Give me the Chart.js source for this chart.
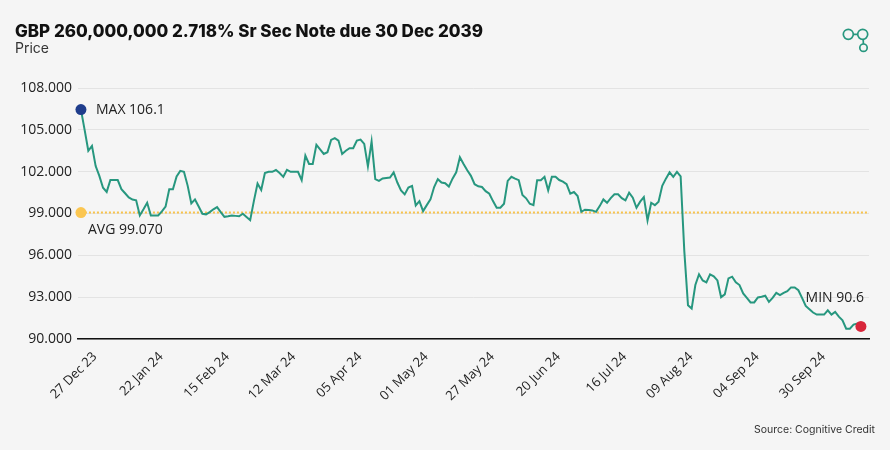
<!DOCTYPE html>
<html>
<head>
<meta charset="utf-8">
<script src="https://cdn.jsdelivr.net/npm/chart.js@4.4.1/dist/chart.umd.min.js"></script>
<style>
  html, body { margin: 0; padding: 0; background: #f5f5f5; }
  #wrap { width: 890px; height: 450px; position: relative; }
</style>
</head>
<body>
<div id="wrap"><canvas id="priceChart"></canvas></div>
<script>
// tick labels, one every 18 business days starting 27 Dec 23
const tickLabels = ["27 Dec 23", "22 Jan 24", "15 Feb 24", "12 Mar 24", "05 Apr 24", "01 May 24",
  "27 May 24", "20 Jun 24", "16 Jul 24", "09 Aug 24", "04 Sep 24", "30 Sep 24"];
const tickEvery = 18;

// daily price, business days 27 Dec 23 .. 18 Oct 24
const prices = [
  106.45, 105.0, 103.5, 103.85, 102.4, 101.7, 100.85, 100.55, 101.4, 101.4,
  101.4, 100.75, 100.45, 100.15, 100.0, 99.95, 98.86, 99.3, 99.77, 98.86,
  98.86, 98.86, 99.15, 99.49, 100.74, 100.74, 101.66, 102.06, 101.99, 101.0,
  99.72, 100.01, 99.5, 98.98, 98.94, 99.1, 99.3, 99.46, 99.1, 98.76,
  98.8, 98.86, 98.83, 98.8, 98.98, 98.75, 98.52, 99.89, 101.15, 100.69,
  101.9, 101.99, 101.99, 102.12, 101.9, 101.63, 102.13, 101.99, 101.99, 101.99,
  101.39, 103.15, 102.55, 102.55, 103.92, 103.6, 103.27, 103.39, 104.28, 104.4,
  104.23, 103.27, 103.5, 103.68, 103.68, 104.23, 104.3, 103.99, 102.38, 104.16,
  101.46, 101.34, 101.51, 101.55, 101.58, 101.95, 101.22, 100.66, 100.37, 100.86,
  100.98, 99.58, 99.89, 99.17, 99.6, 100.01, 100.9, 101.46, 101.22, 101.17,
  100.93, 101.5, 101.95, 103.03, 102.55, 102.1, 101.7, 101.1, 100.95, 100.9,
  100.6, 100.42, 99.89, 99.41, 99.41, 99.7, 101.34, 101.63, 101.5, 101.39,
  100.33, 100.09, 99.7, 99.6, 101.39, 101.39, 101.63, 100.66, 101.63, 101.63,
  101.4, 101.29, 101.1, 100.42, 100.54, 100.25, 99.12, 99.27, 99.25, 99.22,
  99.12, 99.53, 100.01, 99.77, 100.1, 100.38, 100.38, 100.1, 99.94, 100.5,
  100.14, 99.41, 99.85, 100.18, 98.5, 99.77, 99.6, 99.85, 100.98, 101.5,
  101.95, 101.63, 101.99, 101.66, 96.3, 92.42, 92.18, 93.87, 94.64, 94.2,
  94.06, 94.64, 94.5, 94.2, 93.0, 93.2, 94.35, 94.47, 94.06, 93.87,
  93.27, 92.95, 92.62, 92.62, 92.98, 93.03, 93.1, 92.66, 92.95, 93.31,
  93.15, 93.31, 93.43, 93.7, 93.7, 93.5, 92.95, 92.37, 92.13, 91.9,
  91.75, 91.75, 91.75, 92.06, 91.75, 91.94, 91.6, 91.34, 90.74, 90.74,
  91.03, 91.1, 90.9
];
const avgPrice = 99.07;
const maxText = "MAX 106.1";
const minText = "MIN 90.6";
const avgText = "AVG 99.070";
const yTicks = [90, 93, 96, 99, 102, 105, 108];

const teal = "#27977f";
const last = prices.length - 1;

const overlay = {
  id: 'overlay',
  beforeDraw(chart) {
    const c = chart.ctx;
    c.save();
    c.fillStyle = '#f5f5f5';
    c.fillRect(0, 0, chart.width, chart.height);
    c.restore();
  },
  afterDraw(chart) {
    const c = chart.ctx;
    const x = chart.scales.x, y = chart.scales.y;
    c.save();
    // header
    c.fillStyle = '#111';
    c.font = '800 17px Inter';
    c.textBaseline = 'alphabetic';
    c.fillText('GBP 260,000,000 2.718% Sr Sec Note due 30 Dec 2039', 15, 37);
    c.fillStyle = '#333';
    c.font = '400 14px Inter';
    c.fillText('Price', 15, 53);
    // source
    c.font = '400 10.5px Inter';
    c.textAlign = 'right';
    c.fillText('Source: Cognitive Credit', 875, 433);
    // logo
    c.strokeStyle = teal;
    c.lineWidth = 1.7;
    c.beginPath(); c.arc(848.3, 34.3, 5, 0, Math.PI * 2); c.stroke();
    c.beginPath(); c.arc(862.7, 34.3, 5, 0, Math.PI * 2); c.stroke();
    c.beginPath(); c.arc(863.5, 47.7, 3.7, 0, Math.PI * 2); c.stroke();
    c.beginPath();
    c.moveTo(853.3, 34.3); c.lineTo(857.7, 34.3);
    c.moveTo(863.2, 39.3); c.lineTo(863.4, 44);
    c.stroke();
    // annotations
    c.fillStyle = '#222';
    c.font = '400 14px "Open Sans"';
    c.textBaseline = 'middle';
    c.textAlign = 'left';
    const x0 = x.getPixelForValue(0);
    c.fillText(maxText, x0 + 15, y.getPixelForValue(prices[0]));
    c.fillText(avgText, x0 + 7, y.getPixelForValue(avgPrice) + 17);
    c.textAlign = 'right';
    c.fillText(minText, x.getPixelForValue(last) + 3, y.getPixelForValue(prices[last]) - 28);
    c.restore();
  }
};

new Chart(document.getElementById('priceChart'), {
  type: 'line',
  data: {
    datasets: [{
      data: prices.map((v, i) => ({ x: i, y: v })),
      borderColor: teal,
      borderWidth: 2,
      tension: 0,
      clip: false,
      pointRadius: ctx => (ctx.dataIndex === 0 || ctx.dataIndex === last) ? 5.5 : 0,
      pointBackgroundColor: ctx => ctx.dataIndex === 0 ? '#1f3d8c' : '#d8263a',
      pointBorderWidth: 0
    }, {
      data: [{ x: 0, y: avgPrice }, { x: 214.2, y: avgPrice }],
      borderColor: '#f8c24a',
      borderWidth: 2,
      borderDash: [2, 2],
      clip: false,
      pointRadius: ctx => ctx.dataIndex === 0 ? 5.5 : 0,
      pointBackgroundColor: '#fbc651',
      pointBorderWidth: 0
    }]
  },
  options: {
    responsive: true,
    maintainAspectRatio: false,
    animation: false,
    layout: { padding: { top: 88, right: 21, bottom: 0, left: 0 } },
    plugins: { legend: { display: false }, tooltip: { enabled: false } },
    scales: {
      x: {
        type: 'linear',
        min: -0.8,
        max: 214.2,
        afterFit: s => { s.height = 111; },
        afterBuildTicks: s => { s.ticks = tickLabels.map((t, k) => ({ value: k * tickEvery })); },
        grid: { display: false },
        border: { display: true, color: '#111', width: 1.5 },
        ticks: {
          autoSkip: false,
          minRotation: 45,
          maxRotation: 45,
          padding: 2,
          labelOffset: 14,
          color: '#222',
          font: { family: 'Open Sans', size: 13 },
          callback: v => tickLabels[Math.round(v / tickEvery)]
        }
      },
      y: {
        min: 90,
        max: 108,
        afterFit: s => { s.width = 78; },
        afterBuildTicks: s => { s.ticks = yTicks.map(v => ({ value: v })); },
        border: { display: false },
        grid: { color: '#e3e3e3', lineWidth: 1, drawTicks: false },
        ticks: {
          padding: 6,
          color: '#222',
          font: { family: 'Open Sans', size: 14 },
          callback: v => v.toFixed(3)
        }
      }
    }
  },
  plugins: [overlay]
});
</script>
</body>
</html>
